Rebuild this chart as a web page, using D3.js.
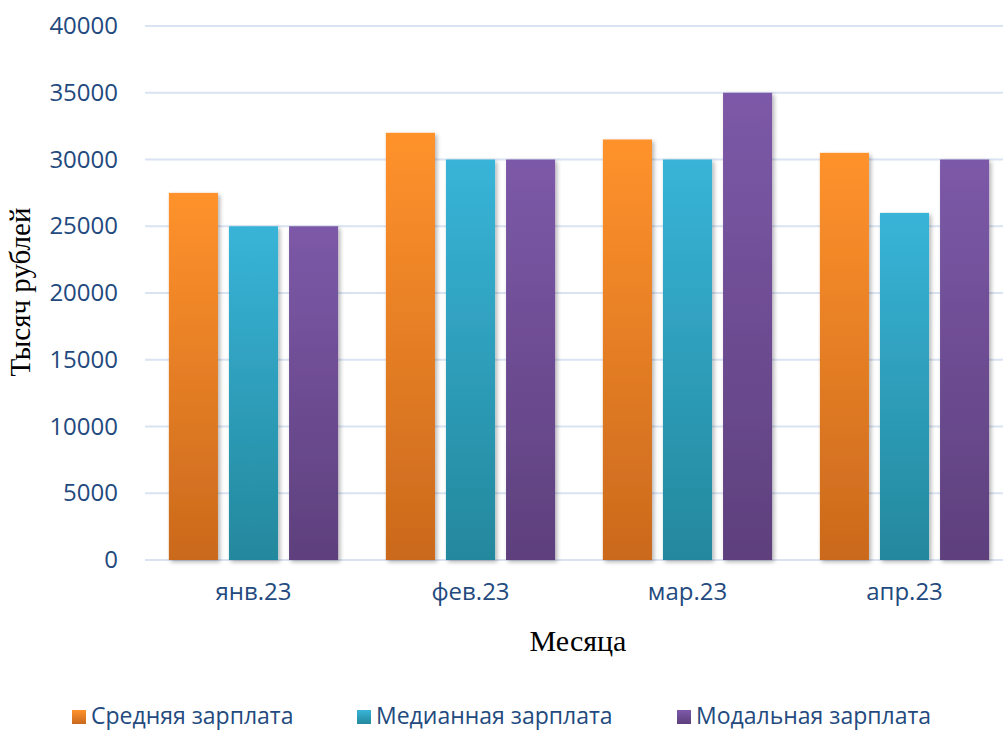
<!DOCTYPE html>
<html>
<head>
<meta charset="utf-8">
<script src="https://cdn.jsdelivr.net/npm/d3@7"></script>
<style>
  body { margin: 0; background: #fff; }
</style>
</head>
<body>
<div id="chart"></div>
<script>
const months = ["янв.23", "фев.23", "мар.23", "апр.23"]
const seriesNames = ["Средняя зарплата", "Медианная зарплата", "Модальная зарплата"]
const avgSalary = [27500, 32000, 31500, 30500]
const medianSalary = [25000, 30000, 30000, 26000]
const modalSalary = [25000, 30000, 35000, 30000]
const yTicks = [0, 5000, 10000, 15000, 20000, 25000, 30000, 35000, 40000]

const width = 1003
const height = 731
const margin = { top: 26, bottom: 171, left: 145, right: -10 }

const colors = [
    { top: "#FF922C", bottom: "#CA691D" },
    { top: "#38B4D8", bottom: "#24889D" },
    { top: "#7C59A8", bottom: "#5E407D" }
]
const values = [avgSalary, medianSalary, modalSalary]

const svg = d3.select("div#chart").append("svg").attr("width", width).attr("height", height)

const defs = svg.append("defs")
colors.forEach((c, i) => {
    const g = defs.append("linearGradient").attr("id", "grad" + i)
        .attr("x1", 0).attr("y1", 0).attr("x2", 0).attr("y2", 1)
    g.append("stop").attr("offset", "0%").attr("stop-color", c.top)
    g.append("stop").attr("offset", "100%").attr("stop-color", c.bottom)
})
const shadow = defs.append("filter").attr("id", "shadow")
    .attr("x", "-20%").attr("y", "-5%").attr("width", "150%").attr("height", "115%")
shadow.append("feDropShadow").attr("dx", 2).attr("dy", 2).attr("stdDeviation", 2)
    .attr("flood-color", "#000").attr("flood-opacity", 0.3)

const x = d3.scaleBand().domain(months).range([margin.left, width - margin.right])
    .paddingInner(0.22).paddingOuter(0.11)
const x1 = d3.scaleBand().domain(seriesNames).range([0, x.bandwidth()]).paddingInner(0.183).paddingOuter(0)
const y = d3.scaleLinear().domain([0, 40000]).range([height - margin.bottom, margin.top])

// линии сетки
svg.append("g").selectAll("line").data(yTicks).enter().append("line")
    .attr("x1", margin.left).attr("x2", width)
    .attr("y1", d => y(d)).attr("y2", d => y(d))
    .style("stroke", "#D9E3F2").style("stroke-width", 2)

// подписи оси Y
const yAxis = d3.axisLeft(y).tickValues(yTicks).tickFormat(d3.format("d")).tickSize(0).tickPadding(0)
const yAxisGroup = svg.append("g").attr("transform", `translate(118, 0)`).call(yAxis)
yAxisGroup.select(".domain").remove()
yAxisGroup.selectAll("text")
    .style("font-family", "'Open Sans'").style("font-size", "24px").style("fill", "#234A7E")

// подписи оси X
const xAxis = d3.axisBottom(x).tickSize(0).tickPadding(0)
const xAxisGroup = svg.append("g").attr("transform", `translate(0, 583)`).call(xAxis)
xAxisGroup.select(".domain").remove()
xAxisGroup.selectAll("text")
    .style("font-family", "'Open Sans'").style("font-size", "24px").style("fill", "#234A7E")

// столбцы
const groups = svg.append("g").selectAll("g").data(months).enter().append("g")
    .attr("transform", d => `translate(${x(d)},0)`)

groups.selectAll("rect")
    .data((m, mi) => seriesNames.map((s, si) => ({ s, si, v: values[si][mi] })))
    .enter().append("rect")
    .attr("x", d => x1(d.s))
    .attr("y", d => y(d.v))
    .attr("width", x1.bandwidth())
    .attr("height", d => y(0) - y(d.v))
    .attr("fill", d => `url(#grad${d.si})`)
    .attr("filter", "url(#shadow)")

// подписи осей
svg.append("text")
    .attr("transform", `translate(30, 292) rotate(-90)`)
    .style("text-anchor", "middle")
    .style("font-family", "'Liberation Serif'").style("font-size", "29px").style("fill", "#000")
    .text("Тысяч рублей")

svg.append("text")
    .attr("x", 578).attr("y", 651)
    .style("text-anchor", "middle")
    .style("font-family", "'Liberation Serif'").style("font-size", "30px").style("fill", "#000")
    .text("Месяца")

// легенда
const legendX = [72, 357, 677]
const legend = svg.append("g").selectAll("g").data(seriesNames).enter().append("g")
    .attr("transform", (d, i) => `translate(${legendX[i]}, 717)`)
legend.append("rect")
    .attr("x", 0).attr("y", -7).attr("width", 14).attr("height", 14)
    .attr("fill", (d, i) => `url(#grad${i})`)
legend.append("text")
    .attr("x", 19).attr("y", 7)
    .style("font-family", "'Open Sans'").style("font-size", "23px").style("fill", "#234A7E")
    .text(d => d)
</script>
</body>
</html>
